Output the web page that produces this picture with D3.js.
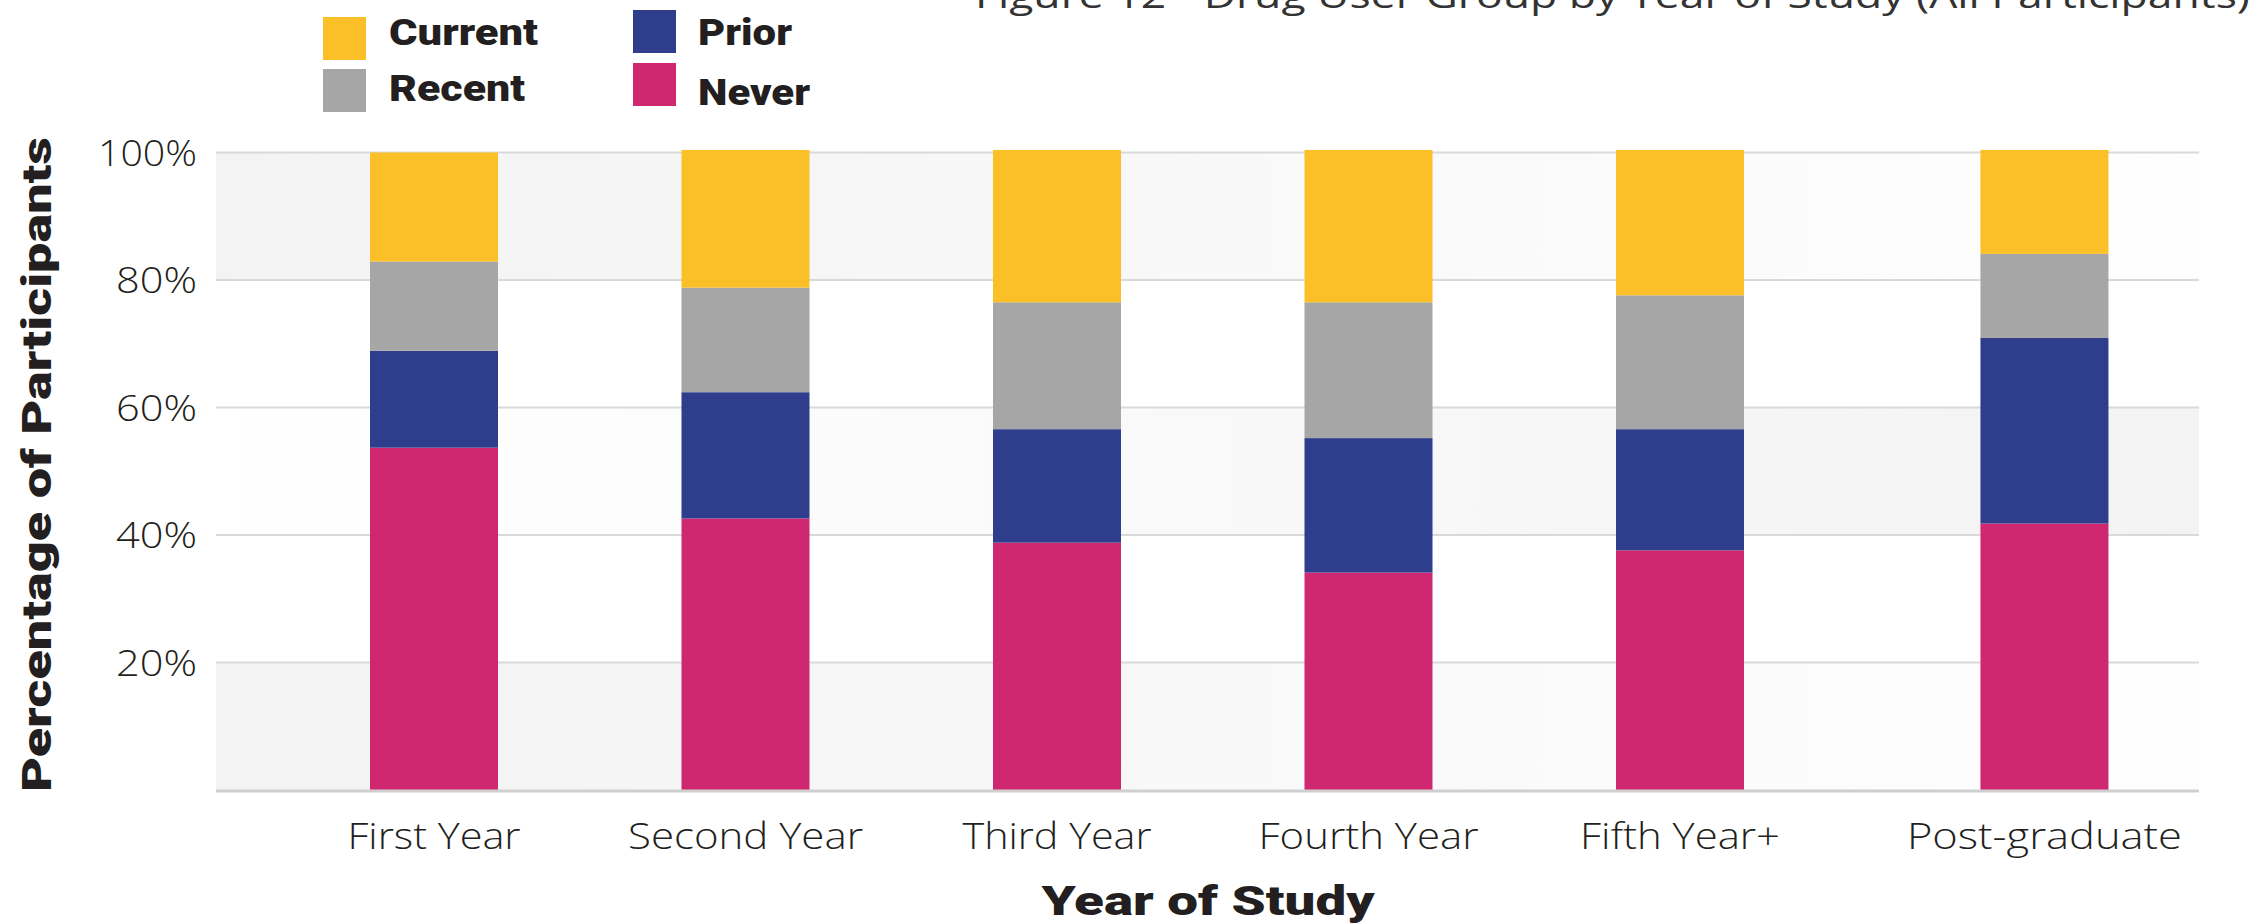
<!DOCTYPE html>
<html>
<head>
<meta charset="utf-8">
<script src="https://cdn.jsdelivr.net/npm/d3@7"></script>
<style>
  html, body { margin: 0; padding: 0; background: #ffffff; }
  svg { display: block; }
</style>
</head>
<body>
<svg id="chart" width="2257" height="924"></svg>
<script>
// ---------------- DATA ----------------
const categories = ["First Year", "Second Year", "Third Year", "Fourth Year", "Fifth Year+", "Post-graduate"];
const seriesNames = ["Never", "Prior", "Recent", "Current"];
const neverValues   = [53.7, 42.6, 38.8, 34.1, 37.6, 41.8];
const priorValues   = [15.2, 19.8, 17.8, 21.1, 19.0, 29.1];
const recentValues  = [14.0, 16.4, 19.9, 21.3, 21.0, 13.2];
const currentValues = [17.1, 21.6, 23.9, 23.9, 22.8, 16.3];
const yTicks = [20, 40, 60, 80, 100];
const titleText = "Figure 12 - Drug User Group by Year of Study (All Participants)";
const xTitle = "Year of Study";
const yTitle = "Percentage of Participants";

// ---------------- STYLE / LAYOUT ----------------
const colors = { Current: "#fbbf27", Recent: "#a6a6a6", Prior: "#2f3e8c", Never: "#cf2870" };
const textColor = "#231f20";
const lightFont = "'Open Sans', 'Lato', 'DejaVu Sans', sans-serif";
const heavyFont = "'Roboto', 'Lato', 'Inter', 'Liberation Sans', sans-serif";
const plot = { left: 216, right: 2199, top: 152.5, bottom: 790 };
const slotIndex = [0, 1, 2, 3, 4, 5.17];   // horizontal slot of each category (post-graduate has a wider gap)
const barWidth = 128;

const svg = d3.select("#chart");

const rows = categories.map((c, i) => ({
  category: c,
  Never: neverValues[i], Prior: priorValues[i], Recent: recentValues[i], Current: currentValues[i]
}));
const stacked = d3.stack().keys(seriesNames)(rows);

const y = d3.scaleLinear().domain([0, 100]).range([plot.bottom, plot.top]);
const slot = d3.scaleLinear().domain([0, 1]).range([434, 745.5]);
const xCenter = d3.scaleOrdinal().domain(categories).range(slotIndex.map(s => slot(s)));

// ---------------- BACKGROUND BANDS ----------------
const defs = svg.append("defs");
function grad(id, c0, c1) {
  const g = defs.append("linearGradient").attr("id", id).attr("x1", "0").attr("x2", "1").attr("y1", "0").attr("y2", "0");
  g.append("stop").attr("offset", "0").attr("stop-color", c0);
  g.append("stop").attr("offset", "1").attr("stop-color", c1);
}
grad("bandA", "#f3f3f3", "#fefefe");
grad("bandB", "#ffffff", "#f3f3f3");
const bands = [
  { from: 80, to: 100, fill: "url(#bandA)" },
  { from: 40, to: 60, fill: "url(#bandB)" },
  { from: 0, to: 20, fill: "url(#bandA)" }
];
svg.append("g").selectAll("rect").data(bands).join("rect")
  .attr("x", plot.left).attr("width", plot.right - plot.left)
  .attr("y", d => y(d.to)).attr("height", d => y(d.from) - y(d.to))
  .attr("fill", d => d.fill);

// ---------------- GRIDLINES ----------------
svg.append("g").selectAll("line").data(yTicks).join("line")
  .attr("x1", plot.left).attr("x2", plot.right)
  .attr("y1", d => y(d)).attr("y2", d => y(d))
  .attr("stroke", "#d9d9d9").attr("stroke-width", 2);

// ---------------- BARS ----------------
svg.append("g").selectAll("g").data(stacked).join("g")
  .attr("fill", d => colors[d.key])
  .selectAll("rect").data(d => d).join("rect")
  .attr("x", d => xCenter(d.data.category) - barWidth / 2)
  .attr("width", barWidth)
  .attr("y", d => y(d[1]))
  .attr("height", d => y(d[0]) - y(d[1]));

// baseline
svg.append("line")
  .attr("x1", plot.left).attr("x2", plot.right)
  .attr("y1", y(0) + 1).attr("y2", y(0) + 1)
  .attr("stroke", "#cfcfcf").attr("stroke-width", 3);

// ---------------- Y AXIS ----------------
const yAxis = d3.axisLeft(y).tickValues(yTicks).tickFormat(d => d + "%").tickSize(0).tickPadding(0);
const yg = svg.append("g").attr("transform", `translate(197,0)`).call(yAxis);
yg.select(".domain").remove();
yg.selectAll("text")
  .attr("font-family", lightFont).attr("font-weight", 300).attr("font-size", 36)
  .attr("fill", textColor).attr("dy", "0.35em")
  .attr("textLength", d => d === 100 ? 99 : 81).attr("lengthAdjust", "spacingAndGlyphs");

// ---------------- X AXIS LABELS ----------------
const xLabelWidths = { "First Year": 173, "Second Year": 235, "Third Year": 189, "Fourth Year": 220, "Fifth Year+": 200, "Post-graduate": 275 };
svg.append("g").selectAll("text").data(categories).join("text")
  .attr("x", d => xCenter(d)).attr("y", 849)
  .attr("text-anchor", "middle")
  .attr("font-family", lightFont).attr("font-weight", 300).attr("font-size", 36)
  .attr("fill", textColor)
  .attr("textLength", d => xLabelWidths[d]).attr("lengthAdjust", "spacingAndGlyphs")
  .text(d => d);

// ---------------- AXIS TITLES ----------------
svg.append("text")
  .attr("x", 1208).attr("y", 915).attr("text-anchor", "middle")
  .attr("font-family", heavyFont).attr("font-weight", 900).attr("font-size", 40)
  .attr("fill", textColor)
  .attr("textLength", 333).attr("lengthAdjust", "spacingAndGlyphs")
  .text(xTitle);

svg.append("text")
  .attr("transform", "translate(51,464.5) rotate(-90)")
  .attr("text-anchor", "middle")
  .attr("font-family", heavyFont).attr("font-weight", 900).attr("font-size", 40)
  .attr("fill", textColor)
  .attr("textLength", 655).attr("lengthAdjust", "spacingAndGlyphs")
  .text(yTitle);

// ---------------- TITLE (partially clipped at top, as in the source) ----------------
svg.append("text")
  .attr("x", 975).attr("y", 8)
  .attr("font-family", lightFont).attr("font-weight", 400).attr("font-size", 34)
  .attr("fill", "#333333")
  .attr("textLength", 1275).attr("lengthAdjust", "spacingAndGlyphs")
  .text(titleText);

// ---------------- LEGEND ----------------
const legendItems = [
  { key: "Current", sx: 323, sy: 17, tx: 389, ty: 45, tw: 149 },
  { key: "Recent",  sx: 323, sy: 69, tx: 389, ty: 101, tw: 136 },
  { key: "Prior",   sx: 633, sy: 10, tx: 698, ty: 45, tw: 94 },
  { key: "Never",   sx: 633, sy: 63, tx: 698, ty: 105, tw: 112 }
];
const lg = svg.append("g");
lg.selectAll("rect").data(legendItems).join("rect")
  .attr("x", d => d.sx).attr("y", d => d.sy).attr("width", 43).attr("height", 43)
  .attr("fill", d => colors[d.key]);
lg.selectAll("text").data(legendItems).join("text")
  .attr("x", d => d.tx).attr("y", d => d.ty)
  .attr("font-family", heavyFont).attr("font-weight", 900).attr("font-size", 36)
  .attr("fill", textColor)
  .attr("textLength", d => d.tw).attr("lengthAdjust", "spacingAndGlyphs")
  .text(d => d.key);
</script>
</body>
</html>
